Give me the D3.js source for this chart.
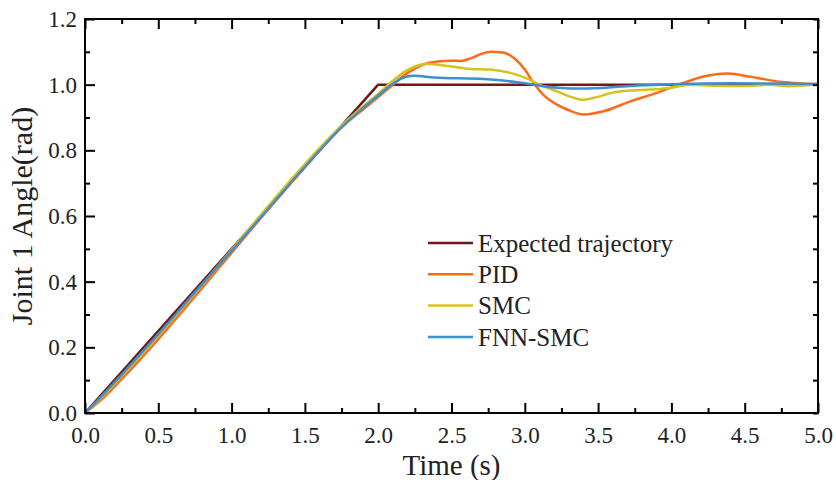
<!DOCTYPE html>
<html>
<head>
<meta charset="utf-8">
<script src="https://cdnjs.cloudflare.com/ajax/libs/d3/7.8.5/d3.min.js"></script>
<style>
  body { margin: 0; background: #fff; }
  #chart-area { width: 836px; height: 480px; }
  svg text { font-family: "Liberation Serif", "Times New Roman", Times, Tinos, "Noto Serif", "DejaVu Serif", FreeSerif, serif; }
</style>
</head>
<body>
<div id="chart-area"></div>
<script>
// data: [time (s), angle (rad)]
var expected = [[0, 0], [2.0, 1.0], [5.0, 1.0]];

var pid = [[0, 0], [0.1, 0.036], [0.25, 0.103], [0.5, 0.225], [0.75, 0.355], [1.0, 0.488],
           [1.25, 0.62], [1.5, 0.748], [1.75, 0.87], [1.9, 0.926], [2.0, 0.962], [2.1, 1.0],
           [2.2, 1.036], [2.3, 1.06], [2.42, 1.071], [2.5, 1.073], [2.56, 1.072],
           [2.63, 1.08], [2.7, 1.093], [2.77, 1.1], [2.85, 1.098], [2.94, 1.076], [3.0, 1.046],
           [3.06, 1.005], [3.125, 0.97], [3.22, 0.939], [3.3, 0.922], [3.4, 0.909], [3.53, 0.918],
           [3.72, 0.949], [3.9, 0.975], [4.08, 1.005], [4.22, 1.025], [4.38, 1.034], [4.53, 1.025],
           [4.72, 1.01], [5.0, 1.002]];

var smc = [[0, 0], [0.1, 0.042], [0.25, 0.112], [0.5, 0.235], [0.75, 0.365], [1.0, 0.497],
           [1.25, 0.63], [1.5, 0.758], [1.75, 0.875], [1.9, 0.935], [2.0, 0.972], [2.1, 1.012],
           [2.19, 1.042], [2.26, 1.057], [2.33, 1.063], [2.49, 1.056], [2.63, 1.048], [2.76, 1.046],
           [2.9, 1.036], [3.01, 1.02], [3.1, 1.0], [3.22, 0.98], [3.32, 0.962], [3.4, 0.954],
           [3.49, 0.962], [3.62, 0.978], [3.85, 0.985], [3.99, 0.99], [4.12, 1.0], [4.3, 0.997],
           [4.53, 0.996], [4.67, 1.0], [4.8, 0.995], [5.0, 1.001]];

var fnnSmc = [[0, 0], [0.1, 0.045], [0.25, 0.117], [0.5, 0.24], [0.75, 0.368], [1.0, 0.494],
              [1.25, 0.622], [1.5, 0.75], [1.75, 0.87], [1.9, 0.93], [2.0, 0.967], [2.1, 1.003],
              [2.17, 1.021], [2.24, 1.027], [2.38, 1.022], [2.72, 1.017], [2.99, 1.005],
              [3.1, 0.997], [3.25, 0.99], [3.38, 0.988], [3.72, 0.996], [4.06, 1.002], [4.4, 1.004],
              [5.0, 1.002]];

var seriesNames = ["Expected trajectory", "PID", "SMC", "FNN-SMC"];
var seriesData = [expected, pid, smc, fnnSmc];
var colors = ["#6e1a1a", "#ff6a16", "#d4c31c", "#3e8fcd"];

var xMajor = [0, 0.5, 1.0, 1.5, 2.0, 2.5, 3.0, 3.5, 4.0, 4.5, 5.0];
var xMinor = [0.25, 0.75, 1.25, 1.75, 2.25, 2.75, 3.25, 3.75, 4.25, 4.75];
var yMajor = [0, 0.2, 0.4, 0.6, 0.8, 1.0, 1.2];
var yMinor = [0.1, 0.3, 0.5, 0.7, 0.9, 1.1];

var width = 836, height = 480;
var margin = {top: 19, right: 18, bottom: 67, left: 85};
var iw = width - margin.left - margin.right;
var ih = height - margin.top - margin.bottom;

var svg = d3.select("#chart-area").append("svg")
    .attr("width", width)
    .attr("height", height);

var g = svg.append("g")
    .attr("transform", "translate(" + margin.left + "," + margin.top + ")");

var x = d3.scaleLinear().domain([0, 5]).range([0, iw]);
var y = d3.scaleLinear().domain([0, 1.2]).range([ih, 0]);

// series
var line = d3.line()
    .x(function(d) { return x(d[0]); })
    .y(function(d) { return y(d[1]); });

seriesData.forEach(function(s, i) {
    g.append("path")
        .datum(s)
        .attr("fill", "none")
        .attr("stroke", colors[i])
        .attr("stroke-width", 2.5)
        .attr("stroke-linejoin", "round")
        .attr("d", i == 0 ? line.curve(d3.curveLinear)(s) : line.curve(d3.curveMonotoneX)(s));
});

// axes, ticks pointing inward
function styleAxis(sel) {
    sel.select(".domain").remove();
    sel.selectAll(".tick line").attr("stroke", "#000").attr("stroke-width", 2);
    sel.selectAll("text")
        .attr("font-family", null)
        .attr("font-size", null)
        .style("font-size", "23px")
        .attr("fill", "#222");
}

g.append("g").attr("transform", "translate(0," + ih + ")")
    .call(d3.axisBottom(x).tickValues(xMajor).tickSize(-10).tickPadding(14).tickFormat(d3.format(".1f")))
    .call(styleAxis);
g.append("g").attr("transform", "translate(0," + ih + ")")
    .call(d3.axisBottom(x).tickValues(xMinor).tickSize(-5).tickFormat(""))
    .call(styleAxis);

g.append("g")
    .call(d3.axisTop(x).tickValues(xMajor).tickSize(-10).tickFormat(""))
    .call(styleAxis);
g.append("g")
    .call(d3.axisTop(x).tickValues(xMinor).tickSize(-5).tickFormat(""))
    .call(styleAxis);

g.append("g")
    .call(d3.axisLeft(y).tickValues(yMajor).tickSize(-10).tickPadding(8).tickFormat(d3.format(".1f")))
    .call(styleAxis);
g.append("g")
    .call(d3.axisLeft(y).tickValues(yMinor).tickSize(-5).tickFormat(""))
    .call(styleAxis);

g.append("g").attr("transform", "translate(" + iw + ",0)")
    .call(d3.axisRight(y).tickValues(yMajor.concat(yMinor)).tickSize(-5).tickFormat(""))
    .call(styleAxis);

// frame
g.append("rect")
    .attr("width", iw)
    .attr("height", ih)
    .attr("fill", "none")
    .attr("stroke", "#000")
    .attr("stroke-width", 2);

// axis titles
svg.append("text")
    .attr("x", margin.left + iw / 2)
    .attr("y", 475)
    .attr("text-anchor", "middle")
    .style("font-size", "29px")
    .attr("fill", "#222")
    .text("Time (s)");

svg.append("text")
    .attr("transform", "translate(32," + (margin.top + ih / 2) + ") rotate(-90)")
    .attr("text-anchor", "middle")
    .style("font-size", "30px")
    .attr("fill", "#222")
    .text("Joint 1 Angle(rad)");

// legend
var legend = svg.append("g")
    .attr("class", "legend")
    .attr("transform", "translate(428,243)");

seriesNames.forEach(function(name, i) {
    var row = legend.append("g")
        .attr("transform", "translate(0," + (i * 31.3) + ")");
    row.append("line")
        .attr("x1", 0)
        .attr("x2", 45)
        .attr("stroke", colors[i])
        .attr("stroke-width", 2.5);
    row.append("text")
        .attr("x", 50)
        .attr("dy", "0.35em")
        .style("font-size", "25px")
        .attr("fill", "#222")
        .text(name);
});
</script>
</body>
</html>
